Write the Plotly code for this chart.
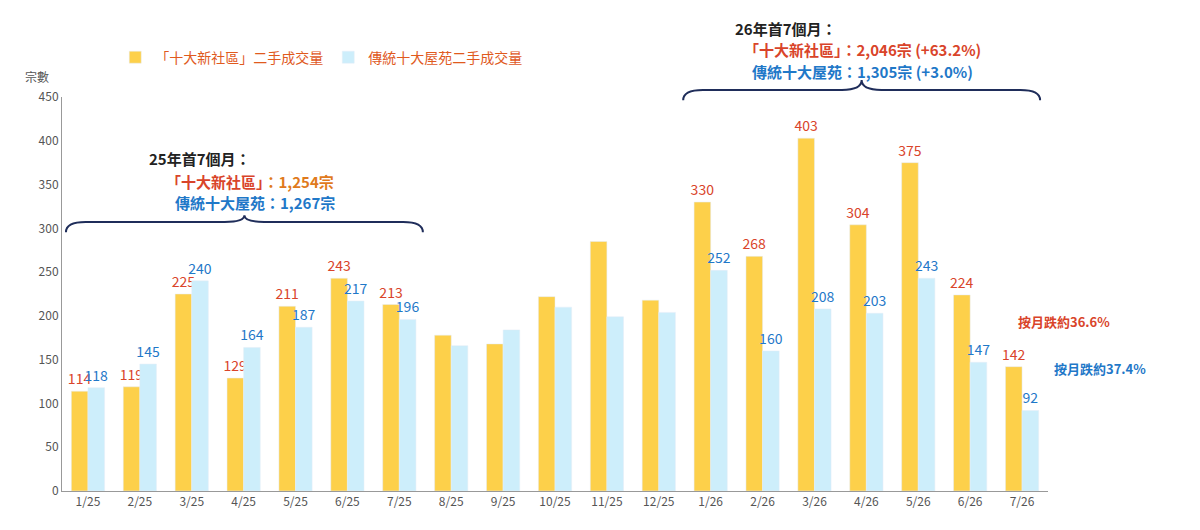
import plotly.graph_objects as go

months = ["1/25","2/25","3/25","4/25","5/25","6/25","7/25","8/25","9/25","10/25","11/25","12/25",
          "1/26","2/26","3/26","4/26","5/26","6/26","7/26"]
new_vals = [114,119,225,129,211,243,213,178,168,222,285,218,330,268,403,304,375,224,142]
old_vals = [118,145,240,164,187,217,196,166,184,210,199,204,252,160,208,203,243,147,92]
labelled = set(range(0,7)) | set(range(12,19))

F = "Noto Sans CJK TC"
RED = "#d9442a"; BLUE = "#1f78c8"; ORANGE = "#e07a1c"; NAVY = "#1f2d5a"
x = list(range(len(months)))

fig = go.Figure()
fig.add_bar(x=x, y=new_vals, name="「十大新社區」二手成交量", marker_color="#fdd04a",
            text=[str(v) if i in labelled else "" for i, v in enumerate(new_vals)],
            textposition="outside", constraintext="none",
            textfont=dict(color=RED, size=14, family=F), cliponaxis=False)
fig.add_bar(x=x, y=old_vals, name="傳統十大屋苑二手成交量", marker_color="#cdeefb",
            text=[str(v) if i in labelled else "" for i, v in enumerate(old_vals)],
            textposition="outside", constraintext="none",
            textfont=dict(color=BLUE, size=14, family=F), cliponaxis=False)

def brace(x0, x1, ye, ym, yt, d=0.02):
    m = (x0 + x1) / 2
    return (f"M {x0},{ye} Q {x0},{ym} {x0+d},{ym} L {m-d},{ym} Q {m},{ym} {m},{yt} "
            f"Q {m},{ym} {m+d},{ym} L {x1-d},{ym} Q {x1},{ym} {x1},{ye}")

shapes = [
    dict(type="path", xref="paper", yref="paper", path=brace(0.004, 0.366, 0.657, 0.683, 0.70), line=dict(color=NAVY, width=2)),
    dict(type="path", xref="paper", yref="paper", path=brace(0.630, 0.992, 0.992, 1.018, 1.043), line=dict(color=NAVY, width=2)),
]

def ann(px, py, text, color="#222", size=15):
    return dict(xref="paper", yref="paper", x=(px-62)/986, y=(491-py)/394, text=text, showarrow=False,
                font=dict(color=color, size=size, family=F), xanchor="center", yanchor="middle")

annotations = [
    ann(200, 158, "<b>25年首7個月：</b>"),
    ann(250, 181, f"<b><span style='color:{RED}'>「十大新社區」</span><span style='color:{ORANGE}'>：1,254宗</span></b>"),
    ann(255, 202, "<b>傳統十大屋苑：1,267宗</b>", BLUE),
    ann(786, 28, "<b>26年首7個月：</b>"),
    ann(862, 50, f"<b><span style='color:{RED}'>「十大新社區」：2,046宗 (+63.2%)</span></b>"),
    ann(862, 72, "<b>傳統十大屋苑：1,305宗 (+3.0%)</b>", BLUE),
    ann(1064, 321, "<b>按月跌約36.6%</b>", RED, 13),
    ann(1100, 368, "<b>按月跌約37.4%</b>", BLUE, 13),
    ann(37, 76, "宗數", "#555", 12),
]

fig.update_layout(
    width=1200, height=530, plot_bgcolor="white", paper_bgcolor="white",
    margin=dict(l=54, r=160, t=89, b=47),
    barmode="group", bargap=0.36, bargroupgap=0.0,
    font=dict(family=F, color="#555"),
    legend=dict(orientation="h", x=0.054, y=1.10, xanchor="left", yanchor="middle",
                font=dict(size=14, color="#e05a1e", family=F), itemwidth=30, traceorder="normal"),
    shapes=shapes, annotations=annotations,
    xaxis=dict(tickmode="array", tickvals=x, ticktext=months, showgrid=False,
               showline=True, linecolor="#999", tickfont=dict(size=12, color="#555"), range=[-0.5, 18.5]),
    yaxis=dict(range=[0, 450], dtick=50, showgrid=False, showline=True, linecolor="#999",
               tickfont=dict(size=12, color="#555")),
)
fig.write_html("out.html")
